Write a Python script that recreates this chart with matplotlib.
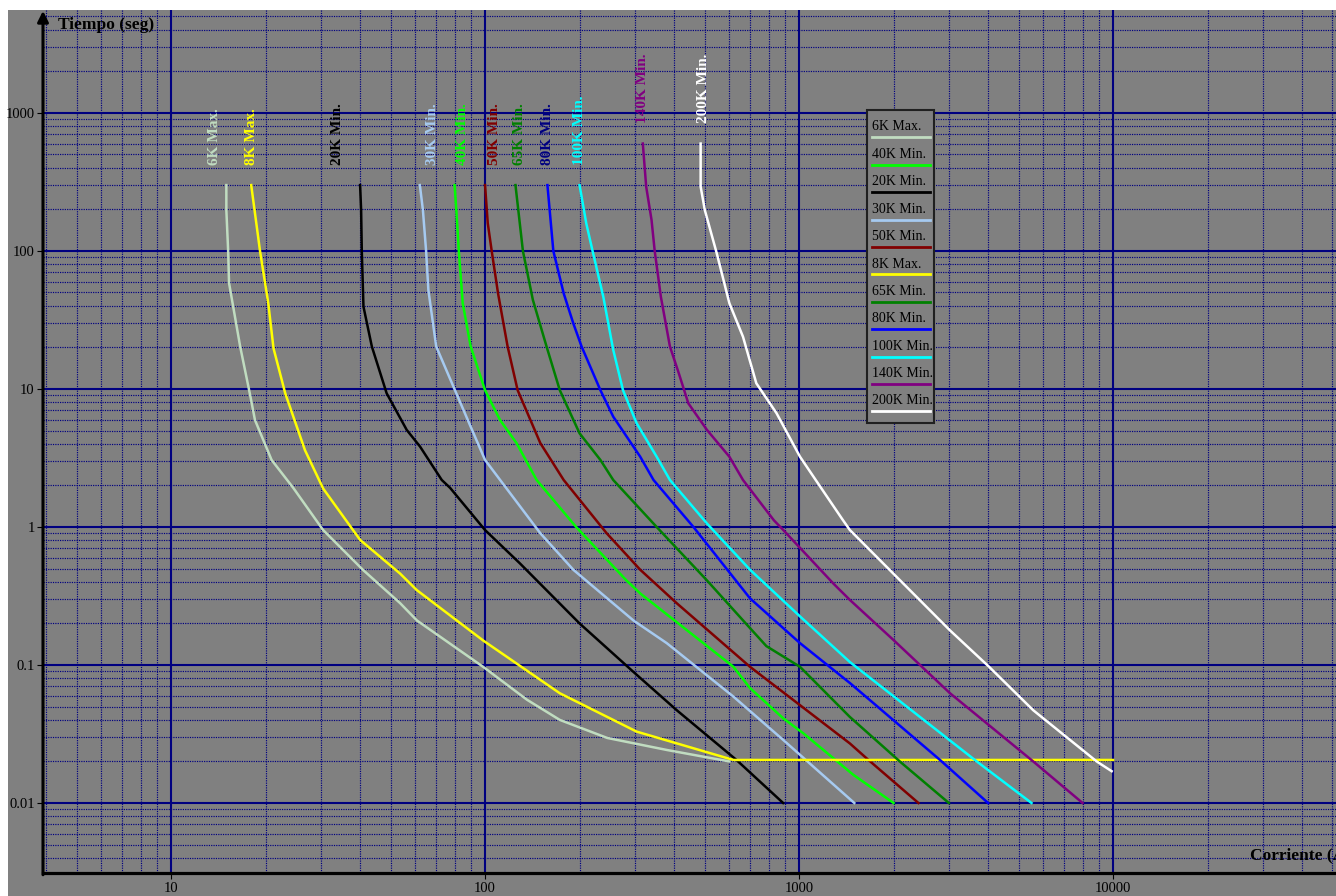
"""Curvas tiempo-corriente de fusibles tipo K (matplotlib, headless)."""

import matplotlib
matplotlib.use("Agg")
import matplotlib.pyplot as plt
import numpy as np
from matplotlib.patches import Rectangle
from matplotlib.lines import Line2D
from matplotlib.ticker import LogLocator, FixedLocator, FuncFormatter, NullFormatter

# --- data (current in A, time in s) ---
names = ["6K Max.", "40K Min.", "20K Min.", "30K Min.", "50K Min.", "8K Max.",
         "65K Min.", "80K Min.", "100K Min.", "140K Min.", "200K Min."]

i_6k = [15, 15, 15.2, 15.3, 16.6, 17.9, 18.5, 20.9, 24.5, 30.5, 40.8, 53.6, 60.7,
        98.6, 136, 173, 245, 380, 600]
t_6k = [300, 198, 100, 58.6, 20.3, 8.8, 5.96, 3.06, 1.92, 0.95, 0.49, 0.281, 0.21,
        0.097, 0.056, 0.040, 0.0296, 0.0242, 0.020]

i_8k = [18, 19.2, 20.4, 21.2, 23.1, 26.7, 30.5, 40, 53.6, 60.6, 98.8, 150, 173,
        304, 618, 10000]
t_8k = [300, 100, 41.8, 19.7, 9.3, 3.6, 1.9, 0.806, 0.46, 0.349, 0.15, 0.078,
        0.0624, 0.0329, 0.0205, 0.0205]

i_20k = [40, 40.3, 40.5, 41, 43.6, 48.6, 56.3, 62.1, 72.8, 77.4, 100, 129, 200,
         297, 408, 632, 890]
t_20k = [300, 198, 100, 39.5, 20.3, 9.3, 5.05, 3.82, 2.19, 1.92, 0.95, 0.546, 0.2,
         0.089, 0.047, 0.0205, 0.01]

i_30k = [62, 63.4, 64.9, 66, 69.9, 79.3, 91.9, 100, 111.7, 150, 191, 297, 379,
         618, 891, 1500]
t_30k = [300, 198, 100, 52, 20.3, 10.4, 4.77, 3.06, 2.19, 0.9, 0.49, 0.21, 0.144,
         0.059, 0.0286, 0.01]

i_40k = [80, 81, 82.5, 84.9, 90, 100, 111.6, 126, 146, 195, 282, 312, 618, 698,
         891, 1032, 1489, 2000]
t_40k = [300, 198, 100, 41.8, 20.3, 9.8, 5.96, 4.05, 2.19, 1.0, 0.41, 0.33, 0.097,
         0.068, 0.041, 0.032, 0.016, 0.01]

i_50k = [100, 102, 105, 110, 118, 127, 150, 178, 244, 312, 408, 698, 1452, 1644, 2400]
t_50k = [300, 159, 100, 49.3, 20.3, 9.8, 4.05, 2.19, 0.9, 0.49, 0.28, 0.097,
         0.027, 0.021, 0.01]

i_65k = [125, 129, 132, 142, 157, 173, 200, 233, 256, 352, 509, 698, 787, 1007,
         1452, 2099, 3000]
t_65k = [300, 159, 100, 44.2, 20.3, 9.8, 4.77, 3.06, 2.19, 1.0, 0.41, 0.185,
         0.137, 0.097, 0.042, 0.0199, 0.01]

i_80k = [158, 165, 178, 191, 203, 233, 256, 312, 344, 461, 698, 1007, 1452, 2812, 4000]
t_80k = [300, 100, 49.3, 29.9, 20.3, 9.8, 6.3, 3.23, 2.19, 1.0, 0.304, 0.144,
         0.074, 0.0205, 0.01]

i_100k = [200, 210, 220, 238, 256, 275, 304, 352, 388, 509, 698, 1007, 1452, 3681, 5500]
t_100k = [300, 159, 100, 46.6, 19.2, 9.8, 5.64, 3.23, 2.19, 1.06, 0.49, 0.225,
          0.105, 0.02, 0.01]

i_140k = [318, 326, 339, 347, 363, 388, 414, 444, 509, 600, 663, 831, 891, 1285,
          1452, 1997, 3026, 5570, 8000]
t_140k = [600, 292, 168, 100, 46.6, 20.3, 13, 7.87, 5.05, 3.23, 2.19, 1.12, 0.95,
          0.39, 0.296, 0.152, 0.0624, 0.02, 0.01]

i_200k = [486, 486, 501, 547, 600, 663, 731, 848, 1007, 1130, 1380, 1452, 2099,
          3026, 4030, 5570, 8870, 9900]
t_200k = [600, 292, 198, 96, 41.8, 23.9, 11, 6.67, 3.23, 2.19, 1.12, 0.95, 0.41,
          0.178, 0.097, 0.047, 0.02, 0.017]

currents = [i_6k, i_40k, i_20k, i_30k, i_50k, i_8k, i_65k, i_80k, i_100k, i_140k, i_200k]
times = [t_6k, t_40k, t_20k, t_30k, t_50k, t_8k, t_65k, t_80k, t_100k, t_140k, t_200k]

# --- style ---
line_colors = ["#c0dcc0", "#00ff00", "#000000", "#a6caf0", "#800000", "#ffff00",
               "#008000", "#0000ff", "#00ffff", "#800080", "#ffffff"]
label_colors = ["#c0dcc0", "#00ff00", "#000000", "#a6caf0", "#800000", "#ffff00",
                "#008000", "#000080", "#00ffff", "#800080", "#ffffff"]
label_xshift = [0.92, 1.06, 0.85, 1.1, 1.07, 1.0, 1.03, 1.0, 1.0, 1.0, 1.02]
GREY = "#808080"
NAVY = "#000080"
SERIF = ["Liberation Serif", "DejaVu Serif"]

W, H = 1336, 896
fig = plt.figure(figsize=(W / 100, H / 100), dpi=100, facecolor="white")
fig.patches.append(Rectangle((8 / W, 0), 1, (H - 10) / H, transform=fig.transFigure,
                             facecolor=GREY, edgecolor="none", zorder=-10))
ax = fig.add_axes([43 / W, 23 / H, (W - 43) / W, (886 - 23) / H])
ax.set_facecolor(GREY)
ax.set_xscale("log")
ax.set_yscale("log")
ax.set_xlim(3.91, 51300)
ax.set_ylim(0.00311, 5570)

# grid
ax.set_axisbelow(True)
for axis in (ax.xaxis, ax.yaxis):
    axis.set_major_locator(FixedLocator([10.0 ** k for k in range(-2, 5)]))
    axis.set_minor_locator(LogLocator(base=10, subs=np.arange(2, 10), numticks=30))
    axis.set_minor_formatter(NullFormatter())
    axis.set_major_formatter(FuncFormatter(lambda v, p: f"{v:g}"))
ax.grid(which="major", color=NAVY, lw=1.5, ls="-")
ax.grid(which="minor", color=NAVY, lw=0.85, ls=(0, (1, 1)))
ax.tick_params(which="minor", length=0)
ax.tick_params(axis="y", which="major", length=4.5, width=0.8, pad=1.5,
               colors="black", labelsize=10.5)
ax.tick_params(axis="x", which="major", length=4, width=0.8, pad=2.5,
               colors="black", labelsize=10.5)
for lab in ax.get_xticklabels() + ax.get_yticklabels():
    lab.set_family(SERIF)

for s in ("top", "right", "left"):
    ax.spines[s].set_visible(False)
ax.spines["bottom"].set_linewidth(2.3)
ax.spines["bottom"].set_color("black")
ax.annotate("", xy=(0, 0.999), xytext=(0, -0.002), xycoords="axes fraction",
            arrowprops=dict(arrowstyle="-|>", lw=2.2, color="black",
                            mutation_scale=16, shrinkA=0, shrinkB=0),
            annotation_clip=False)

# curves and their vertical labels
for name, x, t, lc, tc, sh in zip(names, currents, times, line_colors,
                                  label_colors, label_xshift):
    ax.plot(x, t, color=lc, lw=1.8, solid_joinstyle="round")
    ax.text(x[0] * sh, t[0] * 1.4, name, rotation=90, ha="center", va="bottom",
            color=tc, fontsize=11, fontweight="bold", family=SERIF)

# legend: label above line, in a framed box
lx0, lx1 = (867 - 43) / 1293, (934 - 43) / 1293
ly0, ly1 = (873 - 423) / 863, (873 - 110) / 863
ax.add_patch(Rectangle((lx0, ly0), lx1 - lx0, ly1 - ly0, transform=ax.transAxes,
                       facecolor=GREY, edgecolor="#202020", lw=1.5, zorder=5))
for k, (name, lc) in enumerate(zip(names, line_colors)):
    ty = (873 - (127 + 27.4 * k)) / 863
    ly = (873 - (137.5 + 27.4 * k)) / 863
    ax.text((872 - 43) / 1293, ty, name, transform=ax.transAxes, fontsize=10,
            family=SERIF, va="center", ha="left", color="black", zorder=6)
    ax.add_line(Line2D([(872 - 43) / 1293, (930 - 43) / 1293], [ly, ly],
                       transform=ax.transAxes, color=lc, lw=2.0, zorder=6))

# axis titles
ax.text(15 / 1293, (873 - 25) / 863, "Tiempo (seg)", transform=ax.transAxes,
        fontsize=12.5, fontweight="bold", family=SERIF, va="center", ha="left")
ax.text((1250 - 43) / 1293, (873 - 855) / 863, "Corriente (A)", transform=ax.transAxes,
        fontsize=12.5, fontweight="bold", family=SERIF, va="center", ha="left",
        clip_on=False)

fig.savefig("out.png", dpi=100, facecolor=fig.get_facecolor())
plt.close(fig)
